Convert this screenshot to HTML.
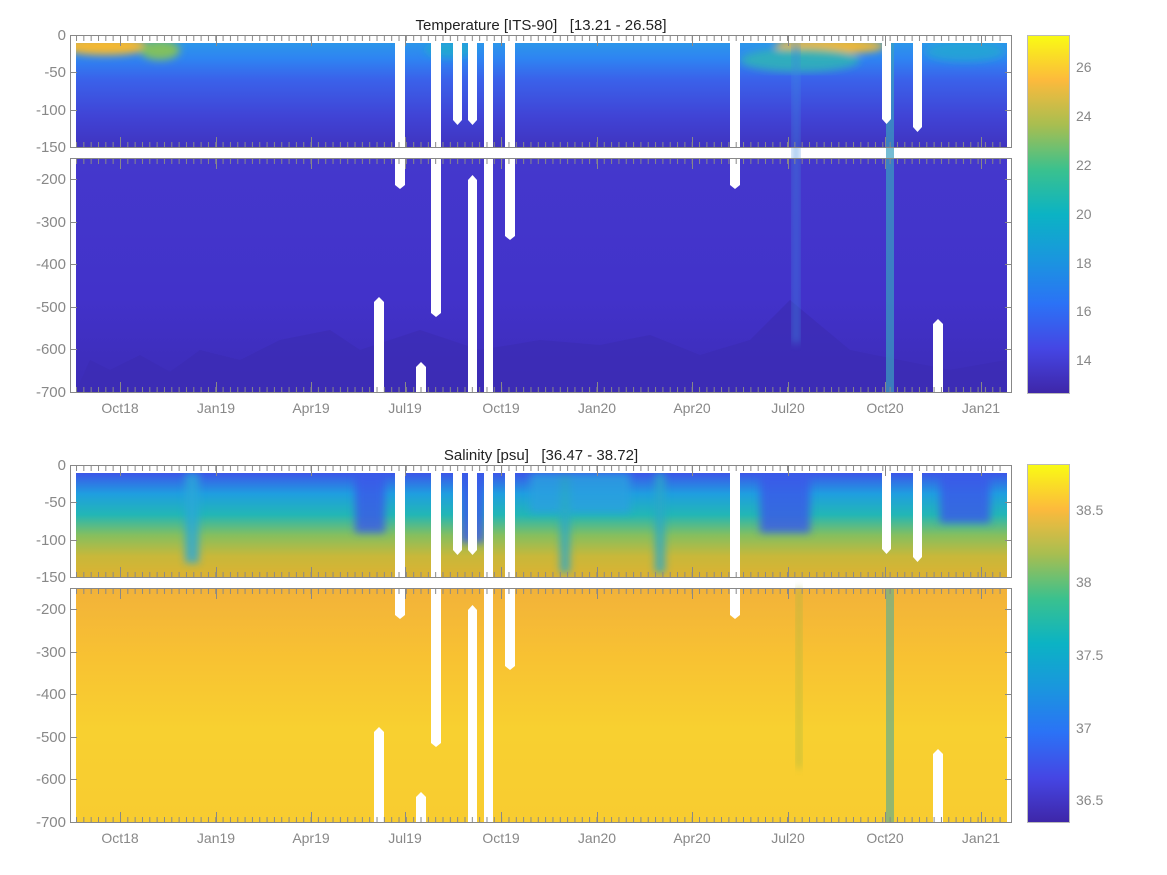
<!DOCTYPE html>
<html><head><meta charset="utf-8"><style>
html,body{margin:0;padding:0;background:#fff;}
svg{display:block;font-family:"Liberation Sans","DejaVu Sans",sans-serif;}
</style></head><body>
<svg width="1167" height="875" viewBox="0 0 1167 875" xmlns="http://www.w3.org/2000/svg">
<defs>
<clipPath id="cT"><rect x="76" y="43" width="931" height="104"/></clipPath>
<clipPath id="cS"><rect x="76" y="473" width="931" height="104"/></clipPath>
<linearGradient id="tU" x1="0" y1="43" x2="0" y2="147" gradientUnits="userSpaceOnUse">
<stop offset="0" stop-color="#2c96ea"/><stop offset="0.15" stop-color="#2e84f2"/><stop offset="0.35" stop-color="#3a62ea"/><stop offset="0.7" stop-color="#4044d6"/><stop offset="1" stop-color="#4034c0"/></linearGradient>
<linearGradient id="tL" x1="0" y1="158" x2="0" y2="392" gradientUnits="userSpaceOnUse">
<stop offset="0" stop-color="#4438cc"/><stop offset="0.6" stop-color="#4232ca"/><stop offset="1" stop-color="#3c2cb6"/></linearGradient>
<linearGradient id="sU" x1="0" y1="473" x2="0" y2="577" gradientUnits="userSpaceOnUse">
<stop offset="0" stop-color="#3c56e8"/><stop offset="0.2" stop-color="#1f9ee0"/><stop offset="0.4" stop-color="#22b6b6"/><stop offset="0.6" stop-color="#86bf5e"/><stop offset="0.8" stop-color="#c8b83a"/><stop offset="1" stop-color="#dcb232"/></linearGradient>
<linearGradient id="sL" x1="0" y1="588" x2="0" y2="822" gradientUnits="userSpaceOnUse">
<stop offset="0" stop-color="#f2b23a"/><stop offset="0.3" stop-color="#f8c232"/><stop offset="0.6" stop-color="#f8d030"/><stop offset="1" stop-color="#f8cc30"/></linearGradient>
<linearGradient id="par" x1="0" y1="1" x2="0" y2="0">
<stop offset="0" stop-color="#3e26a8"/><stop offset="0.125" stop-color="#4546e4"/><stop offset="0.25" stop-color="#2b72f6"/><stop offset="0.375" stop-color="#1a96de"/><stop offset="0.5" stop-color="#0bb3c4"/><stop offset="0.625" stop-color="#3ac18e"/><stop offset="0.75" stop-color="#a8be50"/><stop offset="0.875" stop-color="#fcba3c"/><stop offset="1" stop-color="#f9fb14"/></linearGradient>
<pattern id="tk" x="76" y="0" width="7.33" height="10" patternUnits="userSpaceOnUse"><rect x="0" y="0" width="1" height="10" fill="#888"/></pattern>
<filter id="bl"><feGaussianBlur stdDeviation="4"/></filter>
<g id="gaps" fill="#fff">
<rect x="70" y="35" width="6" height="112"/><rect x="70" y="35" width="942" height="8"/>
<rect x="1007" y="35" width="5" height="112"/><rect x="1007" y="158" width="5" height="234"/><rect x="70" y="158" width="6" height="234"/>
<rect x="395" y="35" width="10" height="112"/><rect x="431" y="35" width="10" height="112"/>
<rect x="453" y="35" width="9" height="85"/><polygon points="453,120 462,120 457.5,125"/>
<rect x="468" y="35" width="9" height="85"/><polygon points="468,120 477,120 472.5,125"/>
<rect x="484" y="35" width="9" height="112"/><rect x="505" y="35" width="10" height="112"/>
<rect x="730" y="35" width="10" height="112"/>
<rect x="882" y="35" width="9" height="84"/><polygon points="882,119 891,119 886.5,124"/>
<rect x="913" y="35" width="9" height="92"/><polygon points="913,127 922,127 917.5,132"/>
<rect x="395" y="158" width="10" height="27"/><polygon points="395,185 405,185 400,189"/>
<rect x="431" y="158" width="10" height="155"/><polygon points="431,313 441,313 436,317"/>
<rect x="468" y="180" width="9" height="212"/><polygon points="468,180 477,180 472.5,175"/>
<rect x="484" y="158" width="9" height="234"/>
<rect x="505" y="158" width="10" height="78"/><polygon points="505,236 515,236 510,240"/>
<rect x="374" y="302" width="10" height="90"/><polygon points="374,302 384,302 379,297"/>
<rect x="416" y="367" width="10" height="25"/><polygon points="416,367 426,367 421,362"/>
<rect x="730" y="158" width="10" height="27"/><polygon points="730,185 740,185 735,189"/>
<rect x="933" y="324" width="10" height="68"/><polygon points="933,324 943,324 938,319"/>
</g>
<g id="axes">
<rect x="70.5" y="35.5" width="941" height="112" fill="none" stroke="#888"/>
<rect x="70.5" y="158.5" width="941" height="234" fill="none" stroke="#888"/>
<rect x="76" y="36" width="930" height="5" fill="url(#tk)"/>
<rect x="76" y="142" width="930" height="5" fill="url(#tk)"/>
<rect x="76" y="159" width="930" height="5" fill="url(#tk)"/>
<rect x="76" y="387" width="930" height="5" fill="url(#tk)"/>
<g stroke="#888">
<path d="M71 72.5h6M71 110.5h6M71 179.5h6M71 222.5h6M71 264.5h6M71 307.5h6M71 349.5h6M1005 72.5h6M1005 110.5h6M1005 179.5h6M1005 222.5h6M1005 264.5h6M1005 307.5h6M1005 349.5h6"/>
<path d="M120.5 36v10M216.5 36v10M311.5 36v10M405.5 36v10M501.5 36v10M597.5 36v10M692.5 36v10M788.5 36v10M885.5 36v10M981.5 36v10M120.5 137v10M216.5 137v10M311.5 137v10M405.5 137v10M501.5 137v10M597.5 137v10M692.5 137v10M788.5 137v10M885.5 137v10M981.5 137v10M120.5 159v10M216.5 159v10M311.5 159v10M405.5 159v10M501.5 159v10M597.5 159v10M692.5 159v10M788.5 159v10M885.5 159v10M981.5 159v10M120.5 382v10M216.5 382v10M311.5 382v10M405.5 382v10M501.5 382v10M597.5 382v10M692.5 382v10M788.5 382v10M885.5 382v10M981.5 382v10"/>
</g>
<g fill="#888" font-size="15" text-anchor="end">
<text x="66" y="40">0</text><text x="66" y="77">-50</text><text x="66" y="115">-100</text><text x="66" y="152">-150</text>
<text x="66" y="184">-200</text><text x="66" y="227">-300</text><text x="66" y="269">-400</text><text x="66" y="312">-500</text><text x="66" y="354">-600</text><text x="66" y="397">-700</text>
</g>
<g fill="#888" font-size="14" text-anchor="middle">
<text x="120" y="413">Oct18</text><text x="216" y="413">Jan19</text><text x="311" y="413">Apr19</text><text x="405" y="413">Jul19</text><text x="501" y="413">Oct19</text><text x="597" y="413">Jan20</text><text x="692" y="413">Apr20</text><text x="788" y="413">Jul20</text><text x="885" y="413">Oct20</text><text x="981" y="413">Jan21</text>
</g>
</g>
</defs>

<!-- Temperature -->
<rect x="76" y="43" width="931" height="104" fill="url(#tU)"/>
<g filter="url(#bl)" clip-path="url(#cT)">
<ellipse cx="105" cy="46" rx="45" ry="9" fill="#f4b830"/>
<ellipse cx="160" cy="50" rx="20" ry="10" fill="#80c060"/>
<ellipse cx="830" cy="46" rx="55" ry="8" fill="#f0b836"/>
<ellipse cx="800" cy="60" rx="60" ry="12" fill="#30b8b0" opacity="0.8"/>
<ellipse cx="965" cy="52" rx="40" ry="10" fill="#20b0c8" opacity="0.6"/>
<ellipse cx="450" cy="50" rx="25" ry="8" fill="#20b0c8" opacity="0.7"/>
</g>
<rect x="76" y="158" width="931" height="234" fill="url(#tL)"/>
<path d="M76 392 L90 360 L110 370 L140 355 L170 372 L200 350 L240 360 L280 340 L330 330 L360 350 L420 330 L480 350 L540 340 L600 345 L650 335 L700 355 L750 340 L790 300 L850 350 L900 360 L950 370 L1006 360 L1006 392Z" fill="#3c2cb4" opacity="0.7"/>
<rect x="792" y="43" width="8" height="300" fill="#3d8ae0" opacity="0.5" filter="url(#bl)"/>
<rect x="886" y="43" width="8" height="349" fill="#3aa0c0" opacity="0.7"/>
<use href="#gaps"/>
<use href="#axes"/>
<text x="541" y="30" font-size="15" fill="#222" text-anchor="middle">Temperature [ITS-90]&#160;&#160; [13.21 - 26.58]</text>
<rect x="1027.5" y="35.5" width="42" height="358" fill="url(#par)" stroke="#bbb"/>
<g fill="#888" font-size="14"><text x="1076" y="72">26</text><text x="1076" y="121">24</text><text x="1076" y="170">22</text><text x="1076" y="219">20</text><text x="1076" y="268">18</text><text x="1076" y="316">16</text><text x="1076" y="365">14</text></g>

<!-- Salinity -->
<rect x="76" y="473" width="931" height="104" fill="url(#sU)"/>
<g filter="url(#bl)" opacity="0.8" clip-path="url(#cS)">
<rect x="185" y="473" width="14" height="90" fill="#2aa8d8"/>
<rect x="355" y="473" width="30" height="60" fill="#3a58e8"/>
<rect x="460" y="473" width="25" height="70" fill="#3a58e8"/>
<rect x="530" y="473" width="100" height="40" fill="#2aa0e0"/>
<rect x="560" y="473" width="10" height="100" fill="#2aa8c8"/>
<rect x="655" y="473" width="10" height="100" fill="#2aa8c8"/>
<rect x="760" y="473" width="50" height="60" fill="#3a58e8"/>
<rect x="940" y="473" width="50" height="50" fill="#3a58e8"/>
</g>
<rect x="76" y="588" width="931" height="234" fill="url(#sL)"/>
<rect x="796" y="588" width="6" height="180" fill="#a8b840" opacity="0.6" filter="url(#bl)"/>
<rect x="886" y="588" width="8" height="234" fill="#7ab080" opacity="0.8"/>
<use href="#gaps" transform="translate(0,430)"/>
<rect x="431" y="588" width="10" height="155" fill="#fff"/>
<use href="#axes" transform="translate(0,430)"/>
<text x="541" y="460" font-size="15" fill="#222" text-anchor="middle">Salinity [psu]&#160;&#160; [36.47 - 38.72]</text>
<rect x="1027.5" y="464.5" width="42" height="358" fill="url(#par)" stroke="#bbb"/>
<g fill="#888" font-size="14"><text x="1076" y="515">38.5</text><text x="1076" y="587">38</text><text x="1076" y="660">37.5</text><text x="1076" y="733">37</text><text x="1076" y="805">36.5</text></g>
</svg>
</body></html>
